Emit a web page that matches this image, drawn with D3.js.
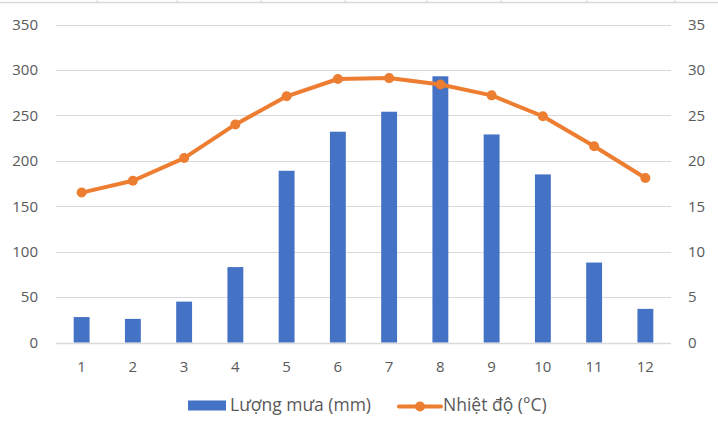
<!DOCTYPE html>
<html>
<head>
<meta charset="utf-8">
<script src="https://cdn.jsdelivr.net/npm/d3@7/dist/d3.min.js"></script>
<style>
  html, body { margin: 0; padding: 0; background: #fff; }
  svg { display: block; }
  text { font-family: "Open Sans", "Noto Sans", sans-serif; fill: #595959; }
</style>
</head>
<body>
<svg id="chart" width="718" height="424"></svg>
<script>
const months = ["1","2","3","4","5","6","7","8","9","10","11","12"];
const rainfall = [28, 26, 45, 83, 189, 232, 254, 293, 229, 185, 88, 37];
const temperature = [16.5, 17.8, 20.3, 24.0, 27.1, 29.0, 29.1, 28.4, 27.2, 24.9, 21.6, 18.1];
const leftTicks = [0, 50, 100, 150, 200, 250, 300, 350];
const rightTicks = [0, 5, 10, 15, 20, 25, 30, 35];
const seriesNames = ["Lượng mưa (mm)", "Nhiệt độ (°C)"];
const sheetColumns = [97, 177, 261, 345, 427, 501, 587, 675];

(function () {
const svg = d3.select("#chart");
const W = 718, H = 424;
const pLeft = 56, pRight = 671, pTop = 24.5, pBottom = 342.5;
const blue = "#4472C4", orange = "#ED7D31", grid = "#D9D9D9";
const fontFam = '"Open Sans", "Noto Sans", sans-serif';
const axisFont = 15, legendFont = 17.5;

// spreadsheet borders peeking at the top
svg.append("line").attr("x1", 0).attr("x2", W).attr("y1", 2.5).attr("y2", 2.5)
  .attr("stroke", "#D9D9D9").attr("stroke-width", 1.5);
svg.selectAll(".col").data(sheetColumns).enter().append("line")
  .attr("x1", d => d).attr("x2", d => d).attr("y1", 0).attr("y2", 3)
  .attr("stroke", "#D9D9D9").attr("stroke-width", 1);

const x = d3.scaleBand().domain(months).range([pLeft, pRight]).paddingInner(0.69).paddingOuter(0.345);
const xc = d3.scaleBand().domain(months).range([pLeft, pRight]);
const yL = d3.scaleLinear().domain([0, 350]).range([pBottom, pTop]);
const yR = d3.scaleLinear().domain([0, 35]).range([pBottom, pTop]);

// gridlines
svg.append("g").selectAll("line").data(leftTicks).enter().append("line")
  .attr("x1", pLeft).attr("x2", pRight)
  .attr("y1", d => Math.round(yL(d)) + 0.5).attr("y2", d => Math.round(yL(d)) + 0.5)
  .attr("stroke", grid).attr("stroke-width", d => d === 0 ? 1.5 : 1);

function styleAxis(g) {
  g.select(".domain").remove();
  g.selectAll("text").attr("font-size", axisFont).attr("fill", "#595959")
    .style("font-family", fontFam);
}

// left axis
const gL = svg.append("g").attr("transform", "translate(38,0)")
  .call(d3.axisLeft(yL).tickValues(leftTicks).tickSize(0).tickPadding(0));
styleAxis(gL);

// right axis
const gR = svg.append("g").attr("transform", "translate(688,0)")
  .call(d3.axisRight(yR).tickValues(rightTicks).tickSize(0).tickPadding(0));
styleAxis(gR);

// bottom axis
const gB = svg.append("g").attr("transform", "translate(0,361.5)")
  .call(d3.axisBottom(xc).tickSize(0).tickPadding(0));
styleAxis(gB);

// bars
svg.append("g").selectAll("rect").data(rainfall).enter().append("rect")
  .attr("x", (d, i) => x(months[i]))
  .attr("width", x.bandwidth())
  .attr("y", d => yL(d))
  .attr("height", d => yL(0) - yL(d))
  .attr("fill", blue);

// line
const line = d3.line()
  .x((d, i) => xc(months[i]) + xc.bandwidth() / 2)
  .y(d => yR(d));
svg.append("path").datum(temperature).attr("d", line)
  .attr("fill", "none").attr("stroke", orange).attr("stroke-width", 4)
  .attr("stroke-linejoin", "round").attr("stroke-linecap", "round");
svg.append("g").selectAll("circle").data(temperature).enter().append("circle")
  .attr("cx", (d, i) => xc(months[i]) + xc.bandwidth() / 2)
  .attr("cy", d => yR(d))
  .attr("r", 5).attr("fill", orange);

// legend
const lg = svg.append("g");
lg.append("rect").attr("x", 188).attr("y", 400.5).attr("width", 38).attr("height", 10).attr("fill", blue);
lg.append("text").attr("x", 230).attr("y", 410.5).attr("font-size", legendFont).text(seriesNames[0]);
lg.append("line").attr("x1", 399).attr("x2", 441).attr("y1", 406.5).attr("y2", 406.5)
  .attr("stroke", orange).attr("stroke-width", 4).attr("stroke-linecap", "round");
lg.append("circle").attr("cx", 420).attr("cy", 406.5).attr("r", 5).attr("fill", orange);
lg.append("text").attr("x", 443).attr("y", 410.5).attr("font-size", legendFont).text(seriesNames[1]);
})();
</script>
</body>
</html>
